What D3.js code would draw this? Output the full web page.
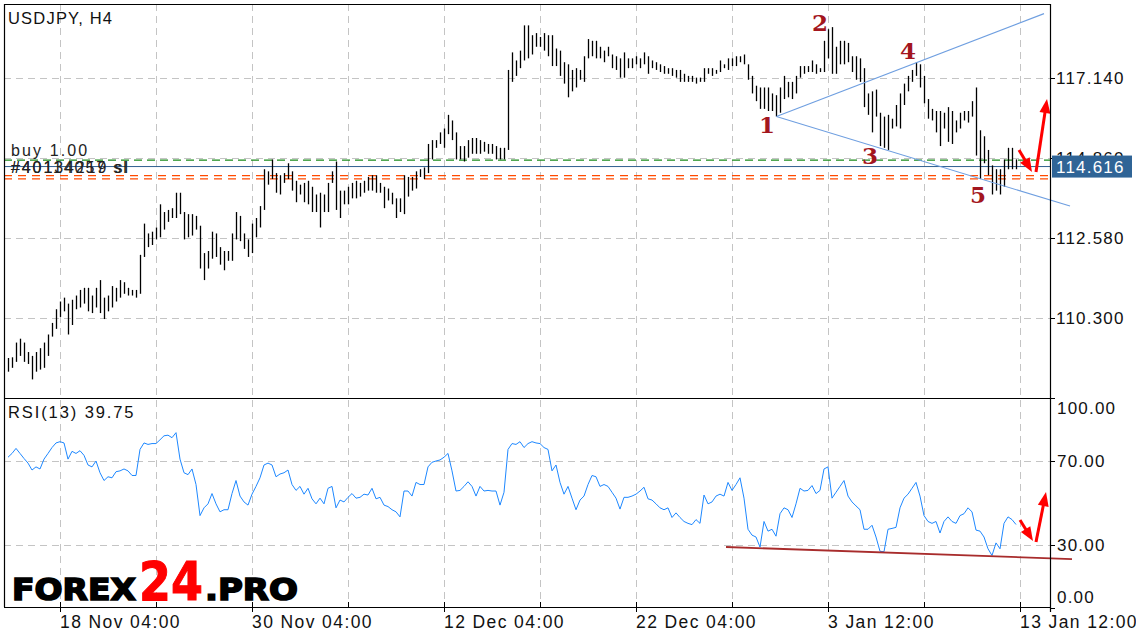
<!DOCTYPE html>
<html><head><meta charset="utf-8">
<script src="https://cdn.jsdelivr.net/npm/d3@7"></script>
<style>
body{margin:0;background:#fff;}
svg{display:block;font-family:"Liberation Sans",Arial,sans-serif;}
</style>
</head><body>
<svg id="c" width="1136" height="640"></svg>
<script>
// ---------- DATA ----------
const highs=[
109.16,109.18,109.60,109.71,109.60,109.33,109.22,109.33,109.44,109.60,
109.83,110.16,110.55,110.77,110.88,110.71,110.82,110.94,111.10,111.16,
111.16,110.94,111.16,111.38,110.88,110.94,111.21,111.16,111.38,111.32,
111.16,111.10,111.10,112.10,112.99,112.71,112.76,112.88,113.54,113.32,
113.38,113.43,113.87,113.87,113.32,113.26,113.26,113.21,112.93,112.15,
112.21,112.76,112.71,112.32,112.21,112.21,112.71,113.32,113.21,112.71,
112.54,112.99,113.15,113.49,114.54,114.48,114.82,114.43,114.37,114.43,
114.71,114.48,114.21,114.10,114.15,114.21,114.04,113.82,113.87,113.82,
114.15,114.48,114.76,113.93,113.93,114.04,114.15,114.21,114.15,114.21,
114.32,114.37,114.37,114.15,114.04,113.99,113.87,113.71,113.71,114.37,
114.32,114.32,114.48,114.54,114.59,115.26,115.37,115.37,115.59,115.70,
116.09,115.93,115.59,115.20,115.20,115.37,115.43,115.43,115.37,115.32,
115.26,115.26,115.20,115.15,115.15,117.37,117.87,117.64,117.92,118.64,
118.64,
118.36,118.42,118.31,118.42,118.36,118.36,117.98,117.92,117.59,117.53,
117.37,117.42,117.37,117.76,118.25,118.20,118.20,118.03,117.92,118.03,
117.81,117.76,117.70,117.87,117.70,117.70,117.76,117.70,117.87,117.76,
117.64,117.59,117.53,117.48,117.42,117.42,117.37,117.37,117.26,117.20,
117.20,117.15,117.15,117.42,117.42,117.42,117.37,117.64,117.53,117.70,
117.70,117.76,117.76,117.81,117.53,117.20,116.92,116.87,116.87,116.87,
116.70,116.65,116.87,117.20,117.03,117.03,117.20,117.48,117.48,117.48,
117.64,117.53,117.42,118.20,118.53,118.59,118.03,118.20,118.20,118.14,
117.76,117.76,117.70,117.42,116.70,116.76,116.81,116.15,116.04,116.09,
115.98,116.37,116.70,116.98,117.20,117.37,117.59,117.53,117.20,116.54,
116.26,116.20,116.20,116.15,116.31,116.20,115.93,116.15,116.20,116.20,
116.48,116.87,115.65,115.48,115.09,114.65,114.54,114.54,114.82,115.15,
115.15,114.82];
const lows=[
108.77,108.88,109.05,109.22,109.05,108.99,108.55,108.77,108.83,108.88,
109.22,109.77,109.99,110.33,110.49,109.83,110.10,110.55,110.60,110.71,
110.49,110.44,110.60,110.44,110.27,110.49,110.60,110.77,110.88,110.99,
110.94,110.94,110.88,110.99,112.04,112.32,112.38,112.54,112.60,112.82,
113.04,113.15,113.15,113.26,112.54,112.60,112.65,112.82,111.71,111.38,
111.71,111.99,112.04,111.82,111.66,111.93,111.93,112.54,112.49,112.27,
112.04,112.15,112.60,112.88,113.38,114.10,114.26,113.87,113.82,114.15,
114.26,113.93,113.60,113.82,113.60,113.54,113.32,113.32,112.88,113.32,
113.32,114.15,113.38,113.15,113.54,113.54,113.71,113.71,113.76,113.87,
113.93,113.93,113.87,113.87,113.43,113.65,113.54,113.15,113.32,113.26,
113.76,113.93,113.99,114.32,114.26,114.43,114.82,115.15,115.26,115.15,
115.54,115.37,114.82,114.82,114.76,114.87,114.98,114.98,114.98,115.04,
114.98,114.98,114.82,114.82,114.82,115.09,117.03,117.20,117.42,117.64,
117.70,
117.81,118.03,118.03,117.92,117.76,117.48,117.48,117.20,116.98,116.59,
116.76,116.87,117.09,117.03,117.70,117.76,117.70,117.70,117.59,117.76,
117.42,117.37,117.15,117.15,117.42,117.42,117.53,117.42,117.53,117.26,
117.42,117.37,117.31,117.26,117.26,117.20,117.15,117.03,117.03,117.03,
117.03,116.98,117.03,117.03,117.26,117.20,117.26,117.31,117.42,117.37,
117.48,117.48,117.59,117.53,117.09,116.70,116.48,116.26,116.26,116.20,
116.20,116.04,116.15,116.54,116.59,116.54,116.70,117.15,117.26,117.31,
117.31,117.26,117.31,117.31,117.70,117.26,117.26,117.53,117.53,117.59,
117.31,117.09,117.03,116.31,116.09,115.59,116.04,115.20,115.15,115.09,
115.70,115.76,115.70,116.37,116.76,117.03,117.20,116.87,116.42,115.98,
115.93,115.59,115.20,115.70,115.32,115.26,115.59,115.70,115.93,115.87,
116.04,114.93,114.26,114.71,114.37,113.82,113.93,113.82,114.04,114.54,
114.54,114.54];
const rsi=[
71.8,73.6,76.0,73.6,71.2,69.0,65.7,67.2,66.2,70.9,
73.6,76.4,78.6,79.2,78.6,70.9,74.6,73.6,74.9,72.7,
68.1,67.2,70.0,64.4,60.7,62.5,62.0,64.9,65.3,66.2,
65.3,63.1,63.1,75.5,78.6,77.9,78.3,78.3,80.1,82.0,
82.3,81.1,83.5,70.9,64.4,63.5,66.2,58.8,44.0,47.7,
49.6,54.5,49.6,45.8,46.8,46.8,54.5,60.7,53.3,50.5,
49.0,54.2,57.9,62.0,68.1,69.0,68.1,62.5,63.8,64.4,
65.7,58.8,56.0,57.9,54.2,57.0,52.0,49.6,52.3,49.6,
57.0,57.9,47.7,51.4,50.5,52.7,54.5,52.3,52.7,54.2,
53.8,57.0,52.0,52.7,49.0,48.3,46.8,45.8,43.4,55.7,
55.7,53.3,59.8,58.8,58.8,67.2,69.4,70.0,70.5,71.8,
73.6,65.3,55.7,56.0,57.9,60.1,57.9,53.3,57.9,55.7,
56.0,55.7,55.7,49.0,55.1,75.5,78.3,77.9,79.2,76.4,
78.3,
79.2,78.6,78.3,76.4,75.5,65.3,68.1,59.8,54.2,57.9,
52.3,46.8,51.4,53.3,58.8,63.1,62.5,57.9,58.8,57.9,
55.1,52.3,47.1,52.7,52.7,53.3,54.2,55.7,57.5,52.0,
51.4,49.6,47.7,46.8,47.7,43.1,45.3,43.1,41.2,40.3,
39.7,42.1,40.3,53.8,49.6,50.5,53.3,54.2,53.3,59.8,
56.0,58.8,62.0,52.3,37.5,34.7,33.8,29.0,41.2,36.6,
37.5,34.2,44.9,47.7,46.8,43.1,49.6,57.0,55.7,56.0,
58.3,54.5,56.0,66.2,67.2,52.3,55.1,57.9,60.7,53.3,
50.5,48.6,46.8,37.5,37.5,39.4,33.8,27.0,26.8,37.5,
37.9,38.4,47.7,52.3,54.2,57.0,59.8,53.3,44.0,41.2,
40.3,41.2,35.7,41.2,43.4,41.2,40.3,44.0,44.9,47.7,
45.8,37.1,36.6,33.8,28.2,25.0,31.0,28.2,40.3,43.4,
42.1,39.75];

const priceTicks=[110.30,112.58,114.86,117.14];
const rsiTicks=[100,70,30,0];
const rsiGrid=[70,30];
const timeTickIdx=[13,61,109,157,205,253];
const timeTickLabels=["18 Nov 04:00","30 Nov 04:00","12 Dec 04:00","22 Dec 04:00","3 Jan 12:00","13 Jan 12:00"];
const gridIdx=[13,37,61,85,109,133,157,181,205,229,253];
const lastPrice=114.616;
const buyPrice=114.80;
const slPrices=[114.355,114.264];
const rsiLast=39.75;

// annotations (bar index, price)
const waveLabels=["1","2","3","4","5"];
const waveIdx=[189.75,203,215.5,225,242.5];
const wavePrice=[115.57,118.48,114.69,117.68,113.58];
const triApex=[192.1,116.04];
const triUpper=[259,118.975];
const triLower=[265.5,113.49];
const priceArrowDown=[[252.75,115.09],[256,114.46]];
const priceArrowUp=[[257,114.46],[259.75,116.54]];
const rsiArrowDown=[[253,41.9],[256.25,31.9]];
const rsiArrowUp=[[257,31.4],[259.5,55.2]];
const rsiSupport=[[179.5,29.05],[266,23.3]];

// ---------- LAYOUT ----------
const L=4,R=1050,T=4,PB=398,B=607;
const svg=d3.select("#c");
svg.append("rect").attr("width",1136).attr("height",640).attr("fill","#fff");

const x=d3.scaleLinear().domain([-1,260.5]).range([L,R]);
const yP=d3.scaleLinear().domain([108.02,119.249]).range([PB,T]);
const yR=d3.scaleLinear().domain([0,100]).range([608,398]);

const gridColor="#c4c4c4", dash="7,5";
// vertical grid
svg.append("g").selectAll("line").data(gridIdx).join("line")
  .attr("x1",d=>Math.round(x(d))+0.5).attr("x2",d=>Math.round(x(d))+0.5)
  .attr("y1",T).attr("y2",B).attr("stroke",gridColor).attr("stroke-dasharray",dash);
// horizontal price grid
svg.append("g").selectAll("line").data(priceTicks).join("line")
  .attr("x1",L).attr("x2",R).attr("y1",d=>Math.round(yP(d))+0.5).attr("y2",d=>Math.round(yP(d))+0.5)
  .attr("stroke",gridColor).attr("stroke-dasharray",dash);
// rsi grid
svg.append("g").selectAll("line").data(rsiGrid).join("line")
  .attr("x1",L).attr("x2",R).attr("y1",d=>Math.round(yR(d))+0.5).attr("y2",d=>Math.round(yR(d))+0.5)
  .attr("stroke",gridColor).attr("stroke-dasharray",dash);

// order lines
function hline(p,color,da,w){
  svg.append("line").attr("x1",L).attr("x2",R).attr("y1",yP(p)).attr("y2",yP(p))
   .attr("stroke",color).attr("stroke-width",w).attr("stroke-dasharray",da);
}
hline(buyPrice,"#1a8a1a","8,5",1.2);
slPrices.forEach(p=>hline(p,"#ff4a00","8,6",1.3));
hline(lastPrice,"#2f5f8f",null,1);

// bars
svg.append("g").selectAll("line").data(highs).join("line")
  .attr("x1",(d,i)=>Math.round(x(i))+0.5).attr("x2",(d,i)=>Math.round(x(i))+0.5)
  .attr("y1",d=>yP(d)).attr("y2",(d,i)=>yP(lows[i]))
  .attr("stroke","#000").attr("stroke-width",1.3);

// triangle lines
const triColor="#6f9fe0";
[triUpper,triLower].forEach(e=>{
  svg.append("line").attr("x1",x(triApex[0])).attr("y1",yP(triApex[1]))
   .attr("x2",x(e[0])).attr("y2",yP(e[1])).attr("stroke",triColor).attr("stroke-width",1.1);
});

// wave labels
svg.append("g").selectAll("text").data(waveLabels).join("text")
  .attr("x",(d,i)=>x(waveIdx[i])).attr("y",(d,i)=>yP(wavePrice[i]))
  .attr("text-anchor","middle").attr("font-family","'DejaVu Serif','Liberation Serif',serif")
  .attr("font-weight","bold").attr("font-size",23).attr("fill","#a3161e").text(d=>d);

// RSI line
svg.append("path").datum(rsi)
  .attr("d",d3.line().x((d,i)=>x(i)).y(d=>yR(d)))
  .attr("fill","none").attr("stroke","#1e88ff").attr("stroke-width",1);

// rsi support line
svg.append("line").attr("x1",x(rsiSupport[0][0])).attr("y1",yR(rsiSupport[0][1]))
  .attr("x2",x(rsiSupport[1][0])).attr("y2",yR(rsiSupport[1][1]))
  .attr("stroke","#a82c2c").attr("stroke-width",1.8);

// arrows
function arrow(p1,p2,ys){
  const x1=x(p1[0]),y1=ys(p1[1]),x2=x(p2[0]),y2=ys(p2[1]);
  const dx=x2-x1,dy=y2-y1,len=Math.hypot(dx,dy),ux=dx/len,uy=dy/len;
  const hl=Math.min(14,len*0.6),hw=5.5;
  const bx=x2-ux*hl,by=y2-uy*hl;
  svg.append("line").attr("x1",x1).attr("y1",y1).attr("x2",bx+ux*1).attr("y2",by+uy*1)
    .attr("stroke","#ff0000").attr("stroke-width",3);
  svg.append("path").attr("d",`M${x2},${y2}L${bx-uy*hw},${by+ux*hw}L${bx+uy*hw},${by-ux*hw}Z`)
    .attr("fill","#ff0000");
}
arrow(priceArrowDown[0],priceArrowDown[1],yP);
arrow(priceArrowUp[0],priceArrowUp[1],yP);
arrow(rsiArrowDown[0],rsiArrowDown[1],yR);
arrow(rsiArrowUp[0],rsiArrowUp[1],yR);

// frame
const frame=svg.append("g").attr("stroke","#000").attr("stroke-width",1.2);
frame.append("line").attr("x1",L).attr("x2",R).attr("y1",T+0.5).attr("y2",T+0.5);
frame.append("line").attr("x1",L+0.5).attr("x2",L+0.5).attr("y1",T).attr("y2",B);
frame.append("line").attr("x1",L).attr("x2",R).attr("y1",PB+0.5).attr("y2",PB+0.5);
frame.append("line").attr("x1",L).attr("x2",R).attr("y1",B+0.5).attr("y2",B+0.5);
frame.append("line").attr("x1",R+0.5).attr("x2",R+0.5).attr("y1",T).attr("y2",612);

// right price axis
const axisFont="'Liberation Sans',Arial,sans-serif";
svg.append("g").selectAll("line").data(priceTicks).join("line")
  .attr("x1",R).attr("x2",R+5).attr("y1",d=>Math.round(yP(d))+0.5).attr("y2",d=>Math.round(yP(d))+0.5)
  .attr("stroke","#000");
svg.append("g").selectAll("text").data(priceTicks).join("text")
  .attr("x",1056).attr("y",d=>yP(d)).attr("dy","0.36em")
  .attr("font-size",17).attr("letter-spacing",1.2).attr("fill","#111")
  .text(d=>d.toFixed(3));
// current price box
svg.append("rect").attr("x",1052).attr("y",yP(lastPrice)-11).attr("width",80).attr("height",22).attr("fill","#2f6496");
svg.append("text").attr("x",1056).attr("y",yP(lastPrice)).attr("dy","0.36em")
  .attr("font-size",17).attr("letter-spacing",1.2).attr("fill","#fff").text(lastPrice.toFixed(3));

// right RSI axis
svg.append("g").selectAll("line").data(rsiTicks).join("line")
  .attr("x1",R).attr("x2",R+5).attr("y1",d=>Math.round(yR(d))+0.5).attr("y2",d=>Math.round(yR(d))+0.5)
  .attr("stroke","#000");
svg.append("g").selectAll("text").data(rsiTicks).join("text")
  .attr("x",1057).attr("y",d=>yR(d)+(d===100?10:d===0?-11:0)).attr("dy","0.36em")
  .attr("font-size",17).attr("letter-spacing",1.2).attr("fill","#111")
  .text(d=>d.toFixed(2));

// bottom time axis
svg.append("g").selectAll("line").data(gridIdx).join("line")
  .attr("x1",d=>Math.round(x(d))+0.5).attr("x2",d=>Math.round(x(d))+0.5)
  .attr("y1",602).attr("y2",d=>timeTickIdx.includes(d)?612:607).attr("stroke","#000");
svg.append("g").selectAll("text").data(timeTickLabels).join("text")
  .attr("x",(d,i)=>x(timeTickIdx[i])).attr("y",627.5)
  .attr("font-size",17.5).attr("letter-spacing",1.4).attr("fill","#111").text(d=>d);

// titles
svg.append("text").attr("x",8).attr("y",23.5).attr("font-size",16.5).attr("letter-spacing",1.2)
  .attr("fill","#111").text("USDJPY, H4");
svg.append("text").attr("x",8).attr("y",417.5).attr("font-size",16.5).attr("letter-spacing",1.9)
  .attr("fill","#111").text("RSI(13) "+rsiLast.toFixed(2));
svg.append("text").attr("x",11).attr("y",156).attr("font-size",16).attr("letter-spacing",2.1)
  .attr("fill","#222").text("buy 1.00");
svg.append("text").attr("x",11).attr("y",172.5).attr("font-size",16).attr("letter-spacing",1.9)
  .attr("fill","#222").text("#40114057 sl");
svg.append("text").attr("x",11).attr("y",172.5).attr("font-size",16).attr("letter-spacing",1.9)
  .attr("fill","#222").text("#40134219 sl");

// watermark
const wm=svg.append("g").attr("font-family","'DejaVu Sans',Arial,sans-serif").attr("font-weight","bold");
wm.append("text").attr("x",12).attr("y",600).attr("font-size",30).attr("textLength",124)
  .attr("lengthAdjust","spacingAndGlyphs").attr("fill","#000").attr("stroke","#000").attr("stroke-width",1.6).text("FOREX");
wm.append("text").attr("x",139).attr("y",600).attr("font-size",53).attr("textLength",64)
  .attr("lengthAdjust","spacingAndGlyphs").attr("fill","#ff0000").attr("stroke","#ff0000").attr("stroke-width",1).text("24");
wm.append("text").attr("x",205).attr("y",600).attr("font-size",30).attr("textLength",93)
  .attr("lengthAdjust","spacingAndGlyphs").attr("fill","#000").attr("stroke","#000").attr("stroke-width",1.6).text(".PRO");
</script>
</body></html>
